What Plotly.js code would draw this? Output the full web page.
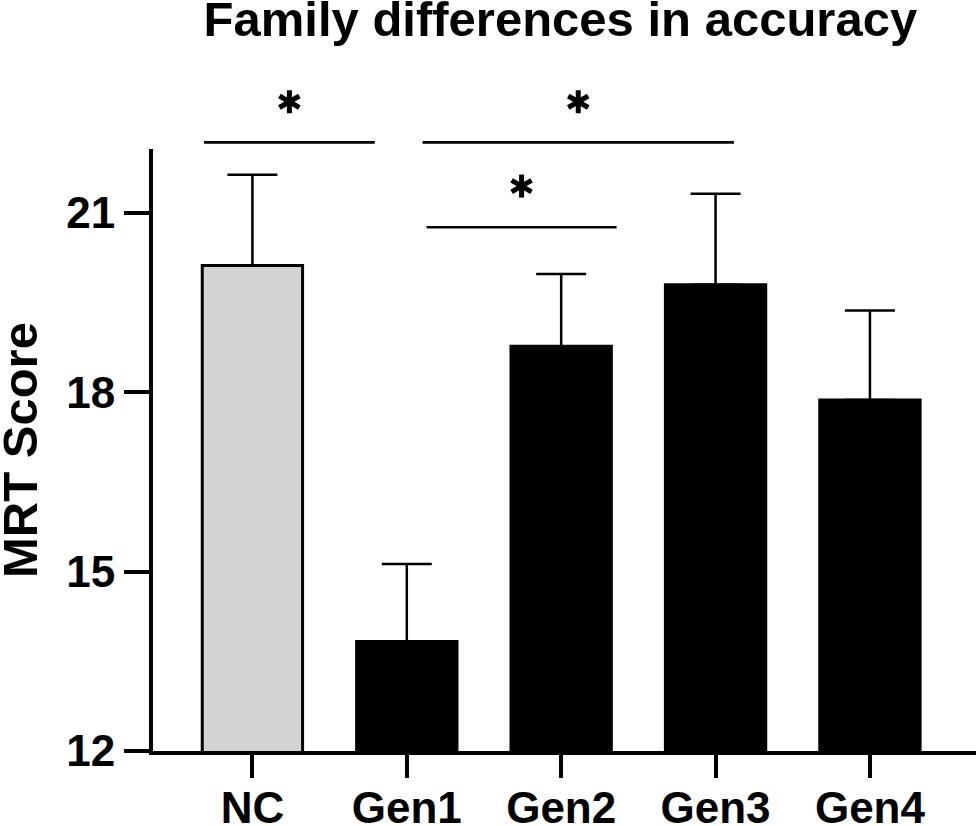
<!DOCTYPE html>
<html>
<head>
<meta charset="utf-8">
<script src="https://cdn.plot.ly/plotly-3.0.1.min.js"></script>
<style>
  html, body { margin: 0; padding: 0; background: #ffffff; }
  #chart { width: 976px; height: 826px; }
</style>
</head>
<body>
<div id="chart"></div>
<script>
// ---------------- data ----------------
var categories = ['NC', 'Gen1', 'Gen2', 'Gen3', 'Gen4'];
var meanScore  = [20.12, 13.83, 18.77, 19.80, 17.87];
var errorUpper = [1.52, 1.30, 1.21, 1.52, 1.50];
var barColors  = ['#d3d3d3', '#000000', '#000000', '#000000', '#000000'];
var yTickVals  = [12, 15, 18, 21];
var yTitle     = 'MRT Score';
var chartTitle = 'Family differences in accuracy';

// significance comparisons
var compFrom  = ['NC', 'Gen1', 'Gen1'];
var compTo    = ['Gen1', 'Gen3', 'Gen2'];
var compLabel = ['*', '*', '*'];

// ---------------- layout geometry (not data) ----------------
var FONT = 'Liberation Sans, Arial, Helvetica, sans-serif';
var bracketGeom = [
  {startOff: -0.314, endOff: -0.207, lineY: 1.011, starY: 1.0785},
  {startOff:  0.102, endOff:  0.119, lineY: 1.011, starY: 1.0785},
  {startOff:  0.128, endOff:  0.359, lineY: 0.870, starY: 0.9384}
];
var STAR_ARM = 11.5;   // px
var STAR_W = 5;        // px

var xIdx = categories.map(function (c, i) { return i; });

var barTrace = {
  type: 'bar',
  x: xIdx,
  y: meanScore,
  width: 0.65,
  marker: { color: barColors, line: { color: '#000000', width: 3 } },
  error_y: {
    type: 'data', symmetric: false,
    array: errorUpper,
    arrayminus: errorUpper.map(function () { return 0; }),
    color: '#000000', thickness: 2.5, width: 25
  },
  hoverinfo: 'x+y',
  showlegend: false
};

var shapes = [];
var c30 = Math.cos(Math.PI / 6), s30 = Math.sin(Math.PI / 6);
var armDirs = [[0, 1], [c30, s30], [c30, -s30]];
for (var k = 0; k < compFrom.length; k++) {
  var a = categories.indexOf(compFrom[k]);
  var b = categories.indexOf(compTo[k]);
  var g = bracketGeom[k];
  var x0 = a + g.startOff, x1 = b + g.endOff;
  shapes.push({
    type: 'line', xref: 'x', yref: 'paper',
    x0: x0, x1: x1, y0: g.lineY, y1: g.lineY,
    line: { color: '#000000', width: 2.7 }
  });
  if (compLabel[k] === '*') {
    var cx = (x0 + x1) / 2;
    armDirs.forEach(function (d) {
      shapes.push({
        type: 'line', xref: 'x', yref: 'paper',
        xsizemode: 'pixel', ysizemode: 'pixel',
        xanchor: cx, yanchor: g.starY,
        x0: -d[0] * STAR_ARM, x1: d[0] * STAR_ARM,
        y0: -d[1] * STAR_ARM, y1: d[1] * STAR_ARM,
        line: { color: '#000000', width: STAR_W }
      });
    });
  }
}

var layout = {
  width: 976, height: 826,
  margin: { l: 153, r: 0, t: 149, b: 75, pad: 0 },
  paper_bgcolor: '#ffffff', plot_bgcolor: '#ffffff',
  font: { family: FONT, color: '#000000' },
  title: {
    text: chartTitle,
    font: { family: FONT, size: 49, weight: 'bold', color: '#000000' },
    xref: 'paper', x: 0.495, xanchor: 'center',
    yref: 'container', y: 0.977, yanchor: 'middle'
  },
  xaxis: {
    type: 'linear',
    range: [-0.644, 4.687],
    tickmode: 'array', tickvals: xIdx, ticktext: categories,
    showgrid: false, zeroline: false,
    showline: true, linecolor: '#000000', linewidth: 4,
    ticks: 'outside', ticklen: 23, tickwidth: 4, tickcolor: '#000000',
    ticklabelstandoff: -8,
    tickfont: { family: FONT, size: 44, weight: 'bold', color: '#000000' },
    fixedrange: true
  },
  yaxis: {
    range: [12, 22.07],
    tickmode: 'array', tickvals: yTickVals,
    showgrid: false, zeroline: false,
    showline: true, linecolor: '#000000', linewidth: 4,
    ticks: 'outside', ticklen: 25, tickwidth: 4, tickcolor: '#000000',
    tickfont: { family: FONT, size: 44, weight: 'bold', color: '#000000' },
    fixedrange: true
  },
  annotations: [{
    text: yTitle, textangle: -90,
    xref: 'paper', yref: 'paper', x: 0, y: 0.5,
    xanchor: 'center', yanchor: 'middle', xshift: -133,
    showarrow: false,
    font: { family: FONT, size: 49, weight: 'bold', color: '#000000' }
  }],
  shapes: shapes,
  showlegend: false
};

Plotly.newPlot('chart', [barTrace], layout, { displayModeBar: false, staticPlot: true });
</script>
</body>
</html>
